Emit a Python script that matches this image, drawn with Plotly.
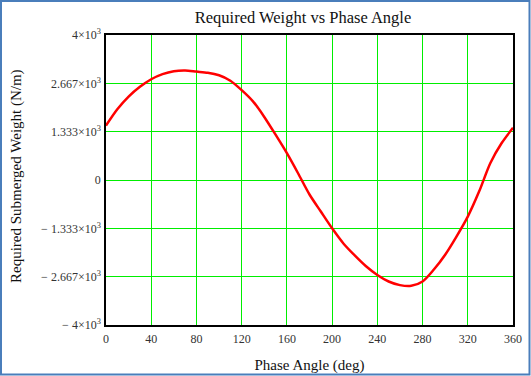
import plotly.graph_objects as go

phase_deg = [0, 10, 20, 30, 40, 50, 60, 70, 80, 90, 100, 110, 120, 130, 140, 150, 160, 170,
             180, 190, 200, 210, 220, 230, 240, 250, 260, 270, 280, 290, 300, 310, 320, 330,
             340, 350, 360]
weight = [1500, 1950, 2300, 2570, 2780, 2920, 3000, 3020, 2990, 2960, 2890, 2740, 2480, 2170,
          1740, 1250, 740, 180, -400, -870, -1333, -1750, -2080, -2380, -2620, -2800, -2900,
          -2920, -2800, -2470, -2060, -1560, -1010, -320, 470, 1020, 1440]

x_ticks = [0, 40, 80, 120, 160, 200, 240, 280, 320, 360]
y_ticks = [-4000, -2666.667, -1333.333, 0, 1333.333, 2666.667, 4000]
y_ticktext = ["\u2212 4\u00d710<sup>3</sup>", "\u2212 2.667\u00d710<sup>3</sup>",
              "\u2212 1.333\u00d710<sup>3</sup>", "0", "1.333\u00d710<sup>3</sup>",
              "2.667\u00d710<sup>3</sup>", "4\u00d710<sup>3</sup>"]

W, H = 531, 376
L, R, T, B = 106, 18, 35, 51
pw, ph = W - L - R, H - T - B

def px(p):
    return (p - L) / pw

def py(p):
    return (H - B - p) / ph

fig = go.Figure()
fig.add_trace(go.Scatter(x=phase_deg, y=weight, mode="lines",
                         line=dict(color="#ff0000", width=2.5, shape="spline", smoothing=0.8),
                         showlegend=False, hoverinfo="skip"))

font = "Liberation Serif, Times New Roman, serif"
fig.update_layout(
    width=W, height=H,
    margin=dict(l=L, r=R, t=T, b=B, autoexpand=False),
    paper_bgcolor="white", plot_bgcolor="white",
    font=dict(family=font, color="#222222", size=12),
    title=dict(text="Required Weight vs Phase Angle", xref="container", x=303 / W, xanchor="center",
               y=1 - 17 / H, yanchor="middle", font=dict(size=16.5, color="#111111")),
    xaxis=dict(range=[0, 360], tickvals=x_ticks, ticktext=[str(v) for v in x_ticks],
               showgrid=True, gridcolor="#00ee00", gridwidth=1, zeroline=False,
               showline=True, linecolor="black", linewidth=1.5, mirror=True,
               ticks="", ticklabelstandoff=2, automargin=False,
               tickfont=dict(size=12, color="#333333"),
               title=dict(text="Phase Angle (deg)", font=dict(size=15, color="#111111"), standoff=14)),
    yaxis=dict(range=[-4000, 4000], tickvals=y_ticks, ticktext=y_ticktext,
               showgrid=True, gridcolor="#00ee00", gridwidth=1, zeroline=True,
               zerolinecolor="#00ee00", zerolinewidth=1,
               showline=True, linecolor="black", linewidth=1.5, mirror=True,
               ticks="", ticklabelstandoff=1, automargin=False,
               tickfont=dict(size=12, color="#333333")),
)

fig.add_annotation(text="Required Submerged Weight (N/m)", textangle=-90,
                   xref="paper", yref="paper", x=px(16), y=py(176),
                   xanchor="center", yanchor="middle", showarrow=False,
                   font=dict(size=15, color="#111111"))

fig.add_shape(type="rect", xref="paper", yref="paper",
              x0=px(1), x1=px(529.5), y0=py(374.5), y1=py(1),
              line=dict(color="#4a7ebb", width=2), fillcolor="rgba(0,0,0,0)", layer="above")

fig.write_html("out.html", config={"displayModeBar": False},
               post_script="document.body.style.margin='0';document.body.style.overflow='hidden';")
